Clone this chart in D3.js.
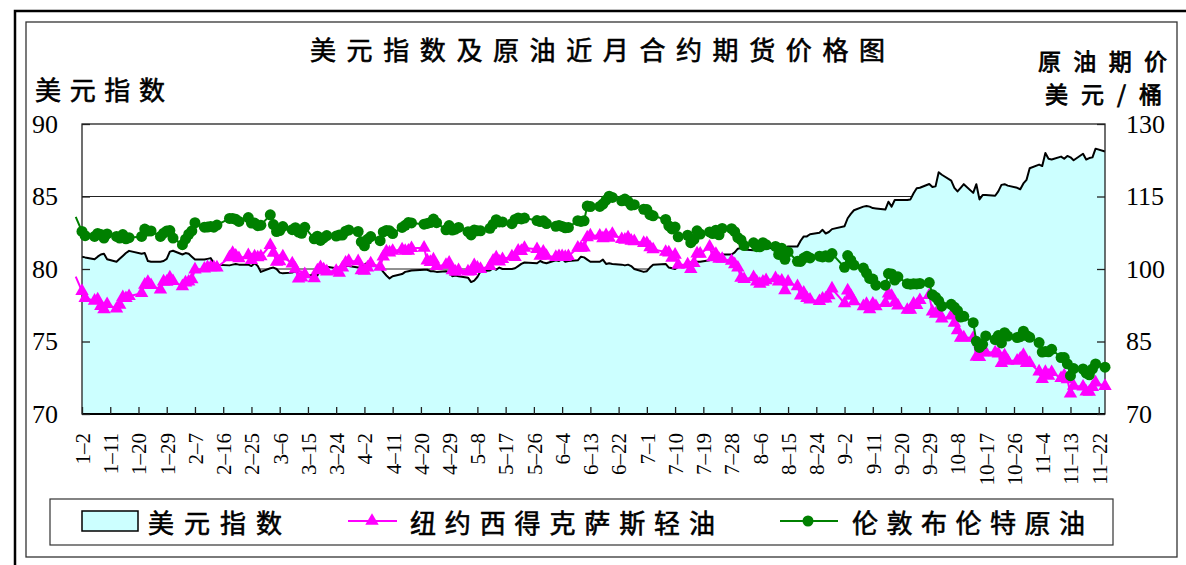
<!DOCTYPE html>
<html lang="zh">
<head>
<meta charset="utf-8">
<title>美元指数及原油近月合约期货价格图</title>
<script src="https://cdn.jsdelivr.net/npm/d3@7"></script>
<style>
  html, body { margin: 0; padding: 0; background: #fff; }
  svg { display: block; }
</style>
</head>
<body>
<script>

// trading days: weekdays from firstDay to lastDay, minus these holidays
const firstDay = "2013-12-31";
const lastDay = "2014-11-24";
const holidays = ["2014-01-01", "2014-01-20", "2014-02-17", "2014-04-18",
	"2014-05-26", "2014-07-04", "2014-09-01"];

const tickLabels = ["1–2", "1–11", "1–20", "1–29", "2–7", "2–16", "2–25", "3–6",
	"3–15", "3–24", "4–2", "4–11", "4–20", "4–29", "5–8", "5–17", "5–26", "6–4",
	"6–13", "6–22", "7–1", "7–10", "7–19", "7–28", "8–6", "8–15", "8–24", "9–2",
	"9–11", "9–20", "9–29", "10–8", "10–17", "10–26", "11–4", "11–13", "11–22"];

// 美元指数 (one row per month, first value = 12-31)
const dxy = [80.04,
	80.85, 80.80, 80.67, 80.85, 81.00, 81.05, 80.67, 80.50, 80.70, 80.90, 81.10, 81.25, 81.05, 81.10, 80.55, 80.50, 80.50, 80.55, 80.70, 81.20, 81.26,
	81.00, 81.10, 81.05, 80.85, 80.65, 80.65, 80.70, 80.75, 80.40, 80.30, 80.25, 80.30, 80.35, 80.30, 80.30, 80.20, 80.40, 80.20, 79.80,
	80.05, 80.10, 80.00, 79.75, 79.70, 79.75, 79.85, 79.65, 79.60, 79.50, 79.60, 79.55, 80.00, 80.15, 80.15, 80.05, 80.10, 80.15, 80.20, 80.20, 80.10,
	80.10, 80.30, 80.45, 80.40, 80.10, 79.80, 79.55, 79.35, 79.50, 79.65, 79.80, 79.85, 79.90, 79.95, 79.95, 79.85, 79.85, 79.80, 79.85, 79.80, 79.50,
	79.55, 79.50, 79.40, 79.10, 79.20, 79.45, 79.85, 79.90, 80.05, 79.95, 80.10, 80.00, 80.00, 80.05, 80.20, 80.35, 80.45, 80.40, 80.55, 80.45, 80.40,
	80.60, 80.55, 80.70, 80.50, 80.55, 80.60, 80.85, 80.80, 80.65, 80.50, 80.50, 80.65, 80.35, 80.40, 80.35, 80.30, 80.25, 80.30, 80.20, 80.00, 79.80,
	79.85, 80.10, 80.30, 80.35, 80.10, 80.05, 80.00, 80.15, 80.25, 80.45, 80.55, 80.50, 80.50, 80.60, 80.75, 80.90, 80.95, 81.00, 81.00, 81.15, 81.40, 81.45,
	81.35, 81.30, 81.45, 81.50, 81.35, 81.40, 81.50, 81.55, 81.60, 81.45, 81.55, 81.55, 81.95, 82.25, 82.25, 82.40, 82.50, 82.70, 82.45, 82.55, 82.75,
	82.95, 83.50, 83.80, 84.05, 84.30, 84.35, 84.30, 84.20, 84.18, 84.10, 84.64, 84.30, 84.76, 84.76, 84.76, 84.80, 85.22, 85.57, 85.60, 85.86, 85.65,
	85.70, 86.67, 86.50, 86.10, 85.60, 85.35, 85.60, 85.85, 85.25, 85.85, 84.80, 85.10, 85.10, 85.05, 85.35, 85.80, 85.85, 85.75, 85.60, 85.50, 85.90, 86.15, 86.95,
	87.20, 87.10, 88.00, 87.60, 87.55, 87.75, 87.60, 87.80, 87.70, 87.50, 87.95, 87.55, 87.65, 87.70, 88.30, 88.10];

// 纽约西得克萨斯轻油
const wti = [98.42,
	95.44, 93.96, 93.43, 93.67, 92.33, 91.66, 92.72, 91.80, 92.59, 94.17, 93.96, 94.37, 95.00, 96.73, 97.32, 96.64, 95.72, 97.41, 97.36, 98.23, 97.49,
	96.43, 97.19, 97.38, 97.84, 99.88, 100.06, 100.37, 100.35, 100.35, 100.30, 102.43, 103.31, 102.75, 102.20, 102.82, 101.83, 102.59, 102.40, 102.59,
	104.92, 103.33, 101.45, 101.56, 102.58, 101.12, 100.03, 97.99, 98.20, 98.89, 98.08, 99.70, 100.37, 99.90, 99.46, 99.60, 99.19, 100.26, 101.28, 101.67, 101.58,
	99.74, 99.62, 100.29, 101.14, 100.44, 102.56, 103.60, 103.40, 103.74, 104.05, 103.75, 103.76, 104.30, 104.38, 101.75, 101.44, 101.94, 100.60, 100.84, 101.28, 99.74,
	99.42, 99.76, 99.48, 99.50, 100.77, 100.26, 99.99, 100.59, 101.70, 102.37, 101.50, 102.02, 102.61, 102.44, 103.77, 103.70, 104.35, 104.11, 102.72, 103.58, 102.71,
	102.47, 102.66, 102.64, 102.48, 102.66, 104.41, 104.35, 104.40, 106.53, 106.91, 106.90, 106.36, 106.97, 106.43, 107.26, 106.17, 106.03, 106.50, 105.84, 105.74, 105.37,
	105.34, 104.48, 104.06, 103.53, 103.40, 102.29, 102.93, 100.83, 100.91, 99.96, 101.20, 103.19, 103.13, 104.59, 102.39, 103.12, 102.07, 102.09, 101.67, 100.97, 100.27, 98.17,
	97.88, 98.29, 97.38, 96.92, 97.34, 97.65, 98.08, 97.37, 97.59, 95.58, 97.35, 96.41, 94.48, 95.07, 93.96, 93.65, 93.35, 93.86, 93.88, 94.55, 95.96,
	92.88, 95.54, 94.45, 93.29, 92.29, 92.75, 91.67, 92.83, 92.27, 92.92, 94.88, 94.42, 93.07, 92.41, 91.52, 91.56, 92.80, 92.53, 93.54, 94.57, 91.16,
	90.73, 91.01, 89.74, 90.34, 88.85, 87.31, 85.77, 85.82, 85.74, 81.84, 81.78, 82.70, 82.75, 82.71, 82.49, 80.52, 82.09, 81.01, 81.00, 81.42, 82.20, 80.54, 80.54,
	78.78, 77.19, 78.68, 77.91, 78.65, 77.40, 77.94, 77.18, 74.21, 75.82, 75.64, 74.61, 74.58, 75.58, 76.51, 75.78];

// 伦敦布伦特原油
const brent = [110.80,
	107.78, 106.89, 106.73, 107.35, 107.15, 106.39, 107.26, 106.75, 106.39, 107.12, 106.26, 106.48, 106.73, 108.27, 107.85, 107.88, 106.74, 107.41, 107.85, 107.95, 106.40,
	105.04, 106.18, 107.19, 107.88, 109.57, 108.66, 108.68, 108.79, 108.65, 109.08, 110.47, 110.46, 110.27, 109.85, 110.64, 109.52, 109.51, 108.96, 109.07,
	111.20, 109.19, 107.76, 107.94, 108.79, 108.13, 108.55, 107.64, 107.39, 108.62, 106.24, 106.79, 105.90, 106.45, 106.92, 106.81, 107.03, 107.03, 107.82, 108.07, 107.76,
	105.62, 104.79, 106.15, 106.72, 105.85, 107.67, 107.98, 107.91, 107.33, 108.59, 109.04, 109.60, 109.53, 109.27, 109.43, 109.60, 110.33, 109.58, 108.12, 108.98, 108.07,
	108.25, 108.59, 107.72, 107.06, 108.06, 107.89, 107.89, 108.41, 109.24, 110.19, 109.75, 109.75, 109.37, 110.25, 110.55, 110.36, 110.54, 110.02, 109.81, 109.97, 109.41,
	108.82, 109.01, 108.81, 108.53, 108.61, 109.99, 109.85, 109.97, 113.02, 112.91, 112.94, 113.45, 114.26, 115.06, 114.81, 114.12, 114.46, 114.00, 113.21, 113.30, 112.36,
	112.29, 111.24, 111.00, 110.24, 108.94, 108.28, 108.67, 106.66, 106.98, 105.44, 106.12, 107.89, 107.24, 107.68, 107.33, 108.03, 107.07, 108.39, 108.34, 107.72, 106.51, 106.02,
	104.84, 105.41, 104.61, 104.59, 105.44, 105.02, 104.68, 103.02, 104.29, 102.01, 103.53, 101.60, 101.56, 102.27, 102.62, 102.29, 102.65, 102.49, 102.72, 102.46, 103.19,
	100.34, 102.77, 101.83, 100.82, 100.20, 99.16, 98.04, 97.92, 96.65, 96.65, 99.05, 98.97, 97.70, 98.39, 96.97, 96.85, 96.95, 96.91, 97.00, 97.20, 94.67,
	94.16, 93.42, 92.31, 92.69, 92.11, 91.38, 90.05, 90.21, 88.89, 85.04, 83.78, 84.42, 86.16, 85.40, 86.22, 84.71, 86.83, 86.13, 85.83, 85.99, 87.12, 86.24, 85.86,
	84.78, 82.82, 82.95, 82.86, 83.39, 81.67, 81.67, 80.38, 77.92, 79.41, 79.31, 78.47, 78.10, 79.33, 80.36, 79.68];

const seriesNames = ["美元指数", "纽约西得克萨斯轻油", "伦敦布伦特原油"];

const W = 1186, H = 565;
const plot = { left: 82, right: 1105, top: 124, bottom: 414 };
const cjk = "'Noto Sans CJK SC', 'Noto Sans', sans-serif";
const num = "'Liberation Serif', 'DejaVu Serif', serif";

const parse = d3.timeParse("%Y-%m-%d");
const fmt = d3.timeFormat("%Y-%m-%d");

const days = d3.timeDay.range(parse(firstDay), d3.timeDay.offset(parse(lastDay), 1))
	.filter(d => d.getDay() % 6 !== 0 && !holidays.includes(fmt(d)));
if (days.length !== dxy.length || days.length !== wti.length || days.length !== brent.length) {
	console.error("length mismatch", days.length, dxy.length, wti.length, brent.length);
}
const rows = days.map((date, i) => ({ date, dxy: dxy[i], wti: wti[i], brent: brent[i] }));
const startDate = parse("2014-01-02");
const shown = rows.filter(d => d.date >= startDate);

const tickDates = tickLabels.map(s => {
	const [m, d] = s.split("–");
	return new Date(2014, +m - 1, +d);
});

const x = d3.scaleTime()
	.domain([startDate, parse(lastDay)])
	.range([plot.left, plot.right]);
const yL = d3.scaleLinear().domain([70, 90]).range([plot.bottom, plot.top]);
const yR = d3.scaleLinear().domain([70, 130]).range([plot.bottom, plot.top]);

const svg = d3.select("body").append("svg")
	.attr("width", W)
	.attr("height", H)
	.attr("viewBox", [0, 0, W, H]);

// frames
svg.append("path")
	.attr("d", `M15,${H} V11 H${W}`)
	.attr("fill", "none")
	.attr("stroke", "#000")
	.attr("stroke-width", 2.5);
svg.append("rect")
	.attr("x", 26).attr("y", 22)
	.attr("width", 1151).attr("height", 535)
	.attr("fill", "none")
	.attr("stroke", "#333")
	.attr("stroke-width", 1.3);

// grid lines (under the area)
svg.append("g")
	.selectAll("line")
	.data([75, 80, 85])
	.join("line")
	.attr("x1", plot.left).attr("x2", plot.right)
	.attr("y1", d => yL(d)).attr("y2", d => yL(d))
	.attr("stroke", "#222")
	.attr("stroke-width", 1);

// dollar index area
svg.append("path")
	.datum(shown)
	.attr("fill", "#ccffff")
	.attr("d", d3.area().x(d => x(d.date)).y0(plot.bottom).y1(d => yL(d.dxy)));
svg.append("path")
	.datum(shown)
	.attr("fill", "none")
	.attr("stroke", "#000")
	.attr("stroke-width", 2)
	.attr("stroke-linejoin", "round")
	.attr("d", d3.line().x(d => x(d.date)).y(d => yL(d.dxy)));

// plot frame
svg.append("rect")
	.attr("x", plot.left).attr("y", plot.top)
	.attr("width", plot.right - plot.left).attr("height", plot.bottom - plot.top)
	.attr("fill", "none")
	.attr("stroke", "#222")
	.attr("stroke-width", 1.3);
svg.append("line")
	.attr("x1", plot.left).attr("x2", plot.right)
	.attr("y1", plot.bottom).attr("y2", plot.bottom)
	.attr("stroke", "#000")
	.attr("stroke-width", 2.2);

// WTI
svg.append("path")
	.datum(rows)
	.attr("fill", "none")
	.attr("stroke", "#ff00ff")
	.attr("stroke-width", 2)
	.attr("d", d3.line().x(d => x(d.date)).y(d => yR(d.wti)));
svg.append("g")
	.selectAll("path")
	.data(shown)
	.join("path")
	.attr("transform", d => `translate(${x(d.date)},${yR(d.wti)})`)
	.attr("d", d3.symbol(d3.symbolTriangle, 78))
	.attr("fill", "#ff00ff");

// Brent
svg.append("path")
	.datum(rows)
	.attr("fill", "none")
	.attr("stroke", "#008000")
	.attr("stroke-width", 2)
	.attr("d", d3.line().x(d => x(d.date)).y(d => yR(d.brent)));
svg.append("g")
	.selectAll("circle")
	.data(shown)
	.join("circle")
	.attr("cx", d => x(d.date))
	.attr("cy", d => yR(d.brent))
	.attr("r", 5.5)
	.attr("fill", "#008000");

// axes
const styleAxis = g => {
	g.select(".domain").remove();
	g.selectAll(".tick line").attr("stroke", "#222").attr("stroke-width", 1.3);
	g.selectAll(".tick text").attr("fill", "#000");
};

svg.append("g")
	.attr("transform", `translate(${plot.left},0)`)
	.call(d3.axisLeft(yL).tickValues([70, 75, 80, 85, 90]).tickSizeInner(-8).tickSizeOuter(0).tickPadding(24))
	.call(styleAxis)
	.attr("font-family", num)
	.attr("font-size", 26);

svg.append("g")
	.attr("transform", `translate(${plot.right},0)`)
	.call(d3.axisRight(yR).tickValues([70, 85, 100, 115, 130]).tickSizeInner(-8).tickSizeOuter(0).tickPadding(21))
	.call(styleAxis)
	.attr("font-family", num)
	.attr("font-size", 26);

const xAxis = svg.append("g")
	.attr("transform", `translate(0,${plot.bottom})`)
	.call(d3.axisBottom(x).tickValues(tickDates).tickSizeInner(-7).tickSizeOuter(0)
		.tickFormat((d, i) => tickLabels[i]))
	.call(styleAxis)
	.attr("font-family", num)
	.attr("font-size", 21);
xAxis.selectAll(".tick text")
	.attr("transform", "rotate(-90)")
	.attr("text-anchor", "end")
	.attr("x", -19)
	.attr("y", 0)
	.attr("dy", "0.35em");

// titles
const label = (txt, x0, cy, len, size = 26) => svg.append("text")
	.attr("x", x0).attr("y", cy)
	.attr("dominant-baseline", "central")
	.attr("font-family", cjk)
	.attr("font-size", size)
	.attr("fill", "#000")
	.attr("stroke", "#000")
	.attr("stroke-width", size < 26 ? 0.8 : 0.6)
	.attr("textLength", len)
	.attr("lengthAdjust", "spacing")
	.text(txt);

label("美元指数及原油近月合约期货价格图", 310, 48, 575);
label("美元指数", 35, 88, 130);
label("原油期价", 1038, 60, 129, 23);
label("美元/桶", 1045, 93, 117, 23);

// legend
svg.append("rect")
	.attr("x", 50).attr("y", 499)
	.attr("width", 1063).attr("height", 46)
	.attr("fill", "none")
	.attr("stroke", "#333")
	.attr("stroke-width", 1.2);

const legY = 521;
svg.append("rect")
	.attr("x", 82).attr("y", legY - 10)
	.attr("width", 56).attr("height", 20)
	.attr("fill", "#ccffff")
	.attr("stroke", "#000")
	.attr("stroke-width", 1.5);
label(seriesNames[0], 148, legY, 134);

svg.append("line")
	.attr("x1", 348).attr("x2", 397).attr("y1", legY).attr("y2", legY)
	.attr("stroke", "#ff00ff").attr("stroke-width", 2);
svg.append("path")
	.attr("transform", `translate(372,${legY})`)
	.attr("d", d3.symbol(d3.symbolTriangle, 78))
	.attr("fill", "#ff00ff");
label(seriesNames[1], 410, legY, 305);

svg.append("line")
	.attr("x1", 780).attr("x2", 838).attr("y1", legY).attr("y2", legY)
	.attr("stroke", "#008000").attr("stroke-width", 2);
svg.append("circle")
	.attr("cx", 808).attr("cy", legY).attr("r", 5.5)
	.attr("fill", "#008000");
label(seriesNames[2], 852, legY, 233);

</script>
</body>
</html>
